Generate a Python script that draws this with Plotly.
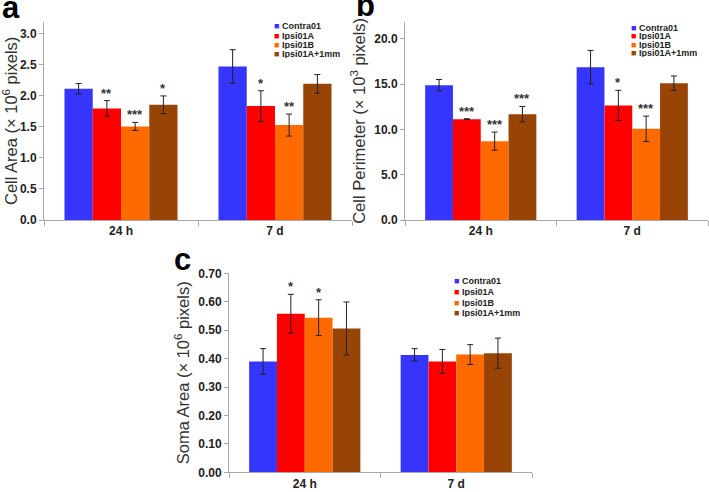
import plotly.graph_objects as go

W, H = 709, 492

groups = ["Contra01", "Ipsi01A", "Ipsi01B", "Ipsi01A+1mm"]
colors = ["#3535fc", "#ff0000", "#ff6a00", "#984406"]
timepoints = ["24 h", "7 d"]

# values per group: [24 h, 7 d]
cell_area_mean = [[2.11, 2.47], [1.795, 1.832], [1.505, 1.527], [1.853, 2.19]]
cell_area_err = [[0.085, 0.27], [0.125, 0.247], [0.065, 0.177], [0.143, 0.15]]
cell_area_sig = [["", ""], ["**", "*"], ["***", "**"], ["*", ""]]

cell_perim_mean = [[14.89, 16.875], [11.14, 12.65], [8.71, 10.07], [11.69, 15.11]]
cell_perim_err = [[0.63, 1.85], [0.05, 1.67], [1.0, 1.4], [0.85, 0.8]]
cell_perim_sig = [["", ""], ["***", "*"], ["***", "***"], ["***", ""]]

soma_mean = [[0.390, 0.413], [0.558, 0.390], [0.544, 0.414], [0.506, 0.419]]
soma_err = [[0.045, 0.022], [0.068, 0.042], [0.063, 0.035], [0.093, 0.053]]
soma_sig = [["", ""], ["*", ""], ["*", ""], ["", ""]]

BARGAP = 0.266


def fx(px):
    return px / W


def fy(py):
    return 1 - py / H


panels = [
    dict(mean=cell_area_mean, err=cell_area_err, sig=cell_area_sig,
         title="Cell Area (× 10<sup>6</sup> pixels)", rng=[0, 3.19], dtick=0.5, fmt=".1f",
         xdom=[fx(44), fx(352)], ydom=[fy(220), fy(21.7)],
         label="a", label_xy=(0, 27), leg_x=272, leg_y=[25.5, 35, 44.5, 54]),
    dict(mean=cell_perim_mean, err=cell_perim_err, sig=cell_perim_sig,
         title="Cell Perimeter (× 10<sup>3</sup> pixels)", rng=[0, 21.9], dtick=5, fmt=".1f",
         xdom=[fx(405), fx(708)], ydom=[fy(220), fy(21.7)],
         label="b", label_xy=(354, 25), leg_x=629, leg_y=[27, 35.5, 44, 53]),
    dict(mean=soma_mean, err=soma_err, sig=soma_sig,
         title="Soma Area (× 10<sup>6</sup> pixels)", rng=[0, 0.70], dtick=0.1, fmt=".2f",
         xdom=[fx(229), fx(532)], ydom=[fy(472.3), fy(273.3)],
         label="c", label_xy=(172, 279), leg_x=452, leg_y=[280.5, 291.5, 302, 312.5]),
]

fig = go.Figure()
annotations = []
layout = {}
font_main = "Liberation Sans"
axis_col = "#a8a8a8"

gw = 1 - BARGAP
bw = gw / len(groups)

for p_i, p in enumerate(panels):
    sfx = "" if p_i == 0 else str(p_i + 1)
    xa, ya = "x" + sfx, "y" + sfx
    for g_i, g in enumerate(groups):
        fig.add_trace(go.Bar(
            x=timepoints, y=p["mean"][g_i], name=g, showlegend=False,
            marker=dict(color=colors[g_i], line=dict(width=0)),
            error_y=dict(type="data", array=p["err"][g_i], color="#222222",
                         thickness=1, width=3),
            xaxis=xa, yaxis=ya,
        ))
        for t_i, t in enumerate(timepoints):
            s = p["sig"][g_i][t_i]
            if s:
                annotations.append(dict(
                    x=t_i - gw / 2 + (g_i + 0.5) * bw,
                    y=p["mean"][g_i][t_i] + p["err"][g_i][t_i],
                    xref=xa, yref=ya, text="<b>" + s + "</b>", showarrow=False,
                    yanchor="bottom", xanchor="center", yshift=-2,
                    font=dict(family=font_main, size=13, color="#333333"),
                ))
    layout["xaxis" + sfx] = dict(
        domain=p["xdom"], anchor=ya, type="category", range=[-0.5, 1.5],
        showline=True, linecolor=axis_col, linewidth=1, automargin=False,
        ticks="outside", tickson="boundaries", ticklen=5, tickcolor=axis_col,
        tickfont=dict(family=font_main, size=12, color="#222222", weight="bold"),
        showgrid=False, zeroline=False, fixedrange=True,
    )
    layout["yaxis" + sfx] = dict(
        domain=p["ydom"], anchor=xa, range=p["rng"], dtick=p["dtick"], tick0=0,
        tickformat=p["fmt"], showline=True, linecolor=axis_col, linewidth=1,
        automargin=False,
        ticks="outside", ticklen=4, tickcolor=axis_col,
        tickfont=dict(family=font_main, size=12, color="#222222", weight="bold"),
        showgrid=False, zeroline=False,
        title=dict(text=p["title"], standoff=4,
                   font=dict(family=font_main, size=16.5, color="#333333")),
    )
    annotations.append(dict(
        x=fx(p["label_xy"][0]), y=fy(p["label_xy"][1]), xref="paper", yref="paper",
        text="<b>" + p["label"] + "</b>", showarrow=False, xanchor="left", yanchor="bottom",
        font=dict(family="Liberation Sans", size=31, color="#000000"),
    ))
    for g_i, g in enumerate(groups):
        annotations.append(dict(
            x=fx(p["leg_x"]), y=fy(p["leg_y"][g_i]), xref="paper", yref="paper",
            text='<span style="color:%s">■</span> <b>%s</b>' % (colors[g_i], g),
            showarrow=False, xanchor="left", yanchor="middle", height=9,
            font=dict(family=font_main, size=9, color="#222222"),
        ))

fig.update_layout(
    width=W, height=H, margin=dict(l=0, r=0, t=0, b=0),
    paper_bgcolor="white", plot_bgcolor="white",
    barmode="group", bargap=BARGAP, bargroupgap=0,
    annotations=annotations, showlegend=False,
    **layout,
)

fig.write_html("out.html", config={"displayModeBar": False},
               post_script="document.body.style.margin='0';document.body.style.overflow='hidden';")
